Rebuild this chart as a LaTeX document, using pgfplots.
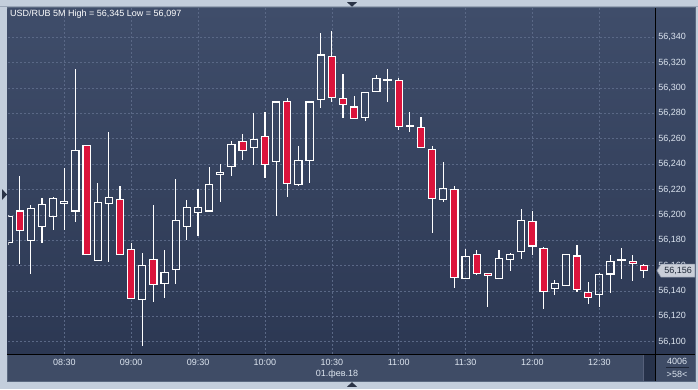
\documentclass[border=0pt]{standalone}
\usepackage{fontspec}
\setmainfont{Liberation Sans}
\usepackage{pgfplots}
\pgfplotsset{compat=1.18}
\usepackage{pgfplotstable}

\definecolor{framec}{HTML}{C3CEDC}
\definecolor{plottop}{HTML}{3F4D6A}
\definecolor{plotbot}{HTML}{2C3853}
\definecolor{bandc}{HTML}{3F4C66}
\definecolor{gridc}{HTML}{5A6886}
\definecolor{labc}{HTML}{DDE5F0}
\definecolor{candred}{HTML}{DC143C}
\definecolor{borderc}{HTML}{5A6980}
\definecolor{arrowc}{HTML}{2A3346}
\definecolor{toplinec}{HTML}{9AA6B8}
\definecolor{scrollc}{HTML}{27324A}
\definecolor{scrolllc}{HTML}{56607A}
\definecolor{seplc}{HTML}{1E2638}
\definecolor{lpfill}{HTML}{C9CED8}
\definecolor{lpdraw}{HTML}{8C96A8}
\definecolor{lptext}{HTML}{1E2838}

% USD/RUB 5-minute candles: index (0 = 08:30), open, high, low, close
\pgfplotstableread{
i O H L C
-5 56178 56200 56176 56199
-4 56203 56231 56161 56188
-3 56180 56208 56153 56205
-2 56191 56213 56178 56208
-1 56199 56214 56188 56213
0 56209 56237 56188 56210.5
1 56203 56315 56194.5 56251
2 56255 56255 56169 56169
3 56164 56225 56164 56210
4 56209 56265 56163 56214
5 56212 56223 56169 56169
6 56173 56178 56134 56134
7 56133 56170 56097 56160
8 56165 56208 56131 56145
9 56146 56172 56134.5 56154.5
10 56157 56228 56145.5 56195.5
11 56191 56212 56180 56206
12 56202 56220 56183 56206
13 56203 56238 56203 56224
14 56232 56240 56210 56233.4
15 56238 56258 56231 56255.5
16 56258 56264 56243 56251
17 56253 56280 56239.5 56259.5
18 56262 56281 56229 56239.5
19 56242 56289 56199 56289
20 56289.5 56292 56214 56225
21 56224 56254 56223 56243
22 56243 56290 56225 56289
23 56291 56343 56284 56326
24 56325 56345 56289 56292.6
25 56291.6 56311 56276.6 56287
26 56285 56294 56276 56276
27 56277 56297 56274 56296.6
28 56297.4 56310 56297.4 56307.4
29 56306 56315 56289 56306.5
30 56306 56308 56267 56270
31 56270 56281 56265 56270.5
32 56269 56277 56253 56253
33 56251.6 56254 56186 56212.6
34 56212 56242 56210 56220.5
35 56220 56223 56142 56150.5
36 56149.5 56173 56149.5 56167
37 56169 56172 56152.6 56154
38 56154 56154 56127 56152
39 56150 56172 56149.7 56165.5
40 56165 56170 56156 56169
41 56171 56205 56165 56195.5
42 56194.7 56203 56168 56175.5
43 56173.4 56175 56126 56139.5
44 56142 56149 56137 56146
45 56144 56169 56144 56169
46 56167.6 56176 56139 56141
47 56138.7 56147 56130 56134.7
48 56137 56154 56127 56153
49 56153.4 56168 56138 56163
50 56164.3 56174 56149.5 56164.7
51 56163 56168 56148 56161.6
52 56160 56161.6 56150 56156
}\candles

\begin{document}
\begin{tikzpicture}
\begin{scope}[x=1pt,y=1pt]
  \fill[framec] (0,0) rectangle (698,389);
  \draw[toplinec, line width=0.8pt] (0,382.3) -- (698,382.3);
  \fill[bandc] (7,8) rectangle (695,381.5);
  \draw[borderc, line width=0.8pt] (7,8) rectangle (695,381.5);
  \shade[top color=plottop, bottom color=plotbot] (7.6,35) rectangle (694.6,380.9);
  \fill[scrollc] (643.5,8.4) rectangle (655.5,34.6);
  \draw[scrolllc, line width=0.6pt] (643,8.4) -- (643,34.6);
  \draw[black, line width=0.9pt] (655.5,8) -- (655.5,381.2);
  \draw[black, line width=0.9pt] (7,35) -- (695,35);
  \fill[arrowc] (347,386.8) -- (357,386.8) -- (352,382.3) -- cycle;
  \fill[arrowc] (347,2.2) -- (357,2.2) -- (352,6.8) -- cycle;
  \fill[arrowc] (2,200) -- (2,189) -- (7,194.5) -- cycle;
\end{scope}

\begin{axis}[
  at={(8.3pt,35pt)}, anchor=south west,
  scale only axis, width=647.2pt, height=345.5pt,
  xmin=-5.024, xmax=53.04, ymin=56090.3, ymax=56362.7,
  axis line style={draw=none},
  major tick length=0pt, tick style={draw=none},
  scaled x ticks=false, scaled y ticks=false,
  xtick={0,6,12,18,24,30,36,42,48},
  xticklabels={08:30,09:00,09:30,10:00,10:30,11:00,11:30,12:00,12:30},
  ytick={56100,56120,56140,56160,56180,56200,56220,56240,56260,56280,56300,56320,56340},
  yticklabels={{56,100},{56,120},{56,140},{56,160},{56,180},{56,200},{56,220},{56,240},{56,260},{56,280},{56,300},{56,320},{56,340}},
  yticklabel pos=right,
  xmajorgrids, ymajorgrids,
  grid style={gridc, dash pattern=on 2pt off 2pt, line width=0.6pt},
  tick label style={font=\fontsize{9}{10}\selectfont, text=labc},
  yticklabel style={anchor=west, inner sep=0pt, xshift=2.6pt},
  xticklabel style={anchor=north, inner sep=0pt, yshift=-4.6pt},
  vbar/.style 2 args={draw=none, mark=none, forget plot,
    error bars/.cd, y dir=#1, y explicit, error mark=none,
    error bar style={#2, line cap=butt}},
  hbar/.style={draw=none, mark=none, forget plot,
    error bars/.cd, x dir=both, x explicit, error mark=none,
    error bar style={draw=white, line width=1.15pt, line cap=butt}},
]
% red bodies of falling candles (zero length for rising ones)
\addplot[vbar={plus}{draw=candred, line width=7.15pt}]
  table[x=i, y=C, y error plus expr={max(\thisrow{O}-\thisrow{C},0)}] {\candles};
% left and right sides of every body
\addplot[vbar={plus}{draw=white, line width=1.15pt}]
  table[x expr={\thisrow{i}-0.3207}, y expr={min(\thisrow{O},\thisrow{C})}, y error plus expr={abs(\thisrow{O}-\thisrow{C})}] {\candles};
\addplot[vbar={plus}{draw=white, line width=1.15pt}]
  table[x expr={\thisrow{i}+0.3207}, y expr={min(\thisrow{O},\thisrow{C})}, y error plus expr={abs(\thisrow{O}-\thisrow{C})}] {\candles};
% open and close edges
\addplot[hbar] table[x=i, y=O, x error expr={0.3723}] {\candles};
\addplot[hbar] table[x=i, y=C, x error expr={0.3723}] {\candles};
% upper and lower wicks
\addplot[vbar={plus}{draw=white, line width=1.15pt}]
  table[x=i, y expr={max(\thisrow{O},\thisrow{C})}, y error plus expr={\thisrow{H}-max(\thisrow{O},\thisrow{C})}] {\candles};
\addplot[vbar={minus}{draw=white, line width=1.15pt}]
  table[x=i, y expr={min(\thisrow{O},\thisrow{C})}, y error minus expr={min(\thisrow{O},\thisrow{C})-\thisrow{L}}] {\candles};
\coordinate (lp) at (rel axis cs:1,0.2412);
\end{axis}

\begin{scope}[x=1pt,y=1pt]
  \node[anchor=west, inner sep=0pt, text=white, font=\fontsize{9}{10}\selectfont] at (10,374.5) {USD/RUB 5M High = 56,345 Low = 56,097};
  \node[text=labc, inner sep=0pt, font=\fontsize{9}{10}\selectfont] at (337,15) {01.фев.18};
  \node[text=labc, inner sep=0pt, font=\fontsize{9}{10}\selectfont] at (677,27.3) {4006};
  \draw[seplc, line width=0.7pt] (666,21.3) -- (689,21.3);
  \node[text=labc, inner sep=0pt, font=\fontsize{9}{10}\selectfont] at (677,15) {>58<};
\end{scope}
\begin{scope}[shift={(lp)}, x=1pt, y=1pt]
  \filldraw[fill=lpfill, draw=lpdraw, line width=0.6pt] (1.5,0) -- (5.5,6.5) -- (39.3,6.5) -- (39.3,-6.5) -- (5.5,-6.5) -- cycle;
  \node[text=lptext, inner sep=0pt, font=\fontsize{9}{10}\selectfont] at (22.6,0) {56,156};
\end{scope}
\pgfresetboundingbox
\path[use as bounding box] (0pt,0pt) rectangle (698pt,389pt);
\end{tikzpicture}
\end{document}
